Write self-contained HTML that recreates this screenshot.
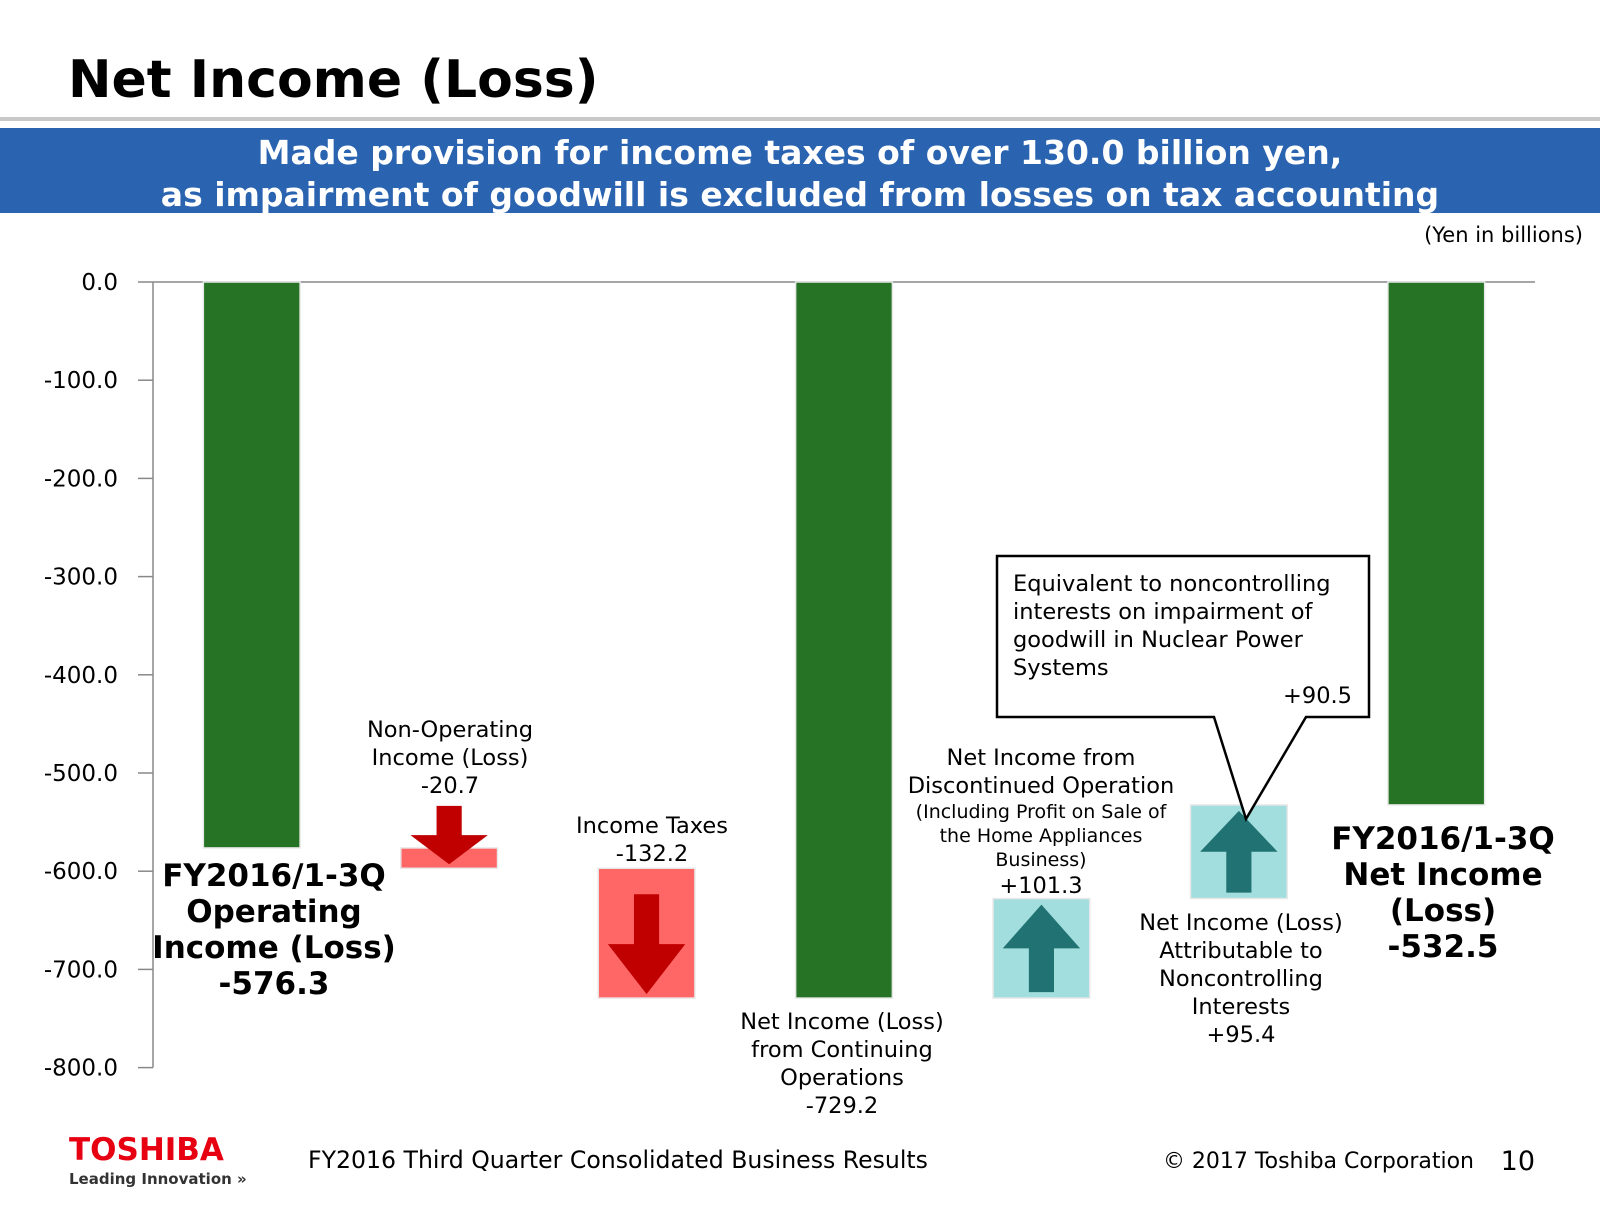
<!DOCTYPE html>
<html><head><meta charset="utf-8"><style>
body{margin:0;background:#fff}
svg text{font-family:"DejaVu Sans","Liberation Sans",sans-serif}
</style></head><body>
<svg id="c" width="1600" height="1200" viewBox="0 0 1600 1200" xmlns="http://www.w3.org/2000/svg">
<text x="68" y="97" font-size="52" font-weight="bold" fill="#000">Net Income (Loss)</text>
<rect x="0" y="117" width="1600" height="4" fill="#c8c8c8"/>
<rect x="0" y="128" width="1600" height="85" fill="#2a63b0"/>
<text x="800" y="164" font-size="33" font-weight="bold" fill="#fff" text-anchor="middle">Made provision for income taxes of over 130.0 billion yen,</text>
<text x="800" y="206" font-size="33" font-weight="bold" fill="#fff" text-anchor="middle">as impairment of goodwill is excluded from losses on tax accounting</text>
<text x="1583" y="242" font-size="21" text-anchor="end">(Yen in billions)</text>
<g id="axes"></g><g id="marks"></g>
<g>
<path d="M997 556 H1369 V717 H1306 L1246 819 L1214 717 H997 Z" fill="#fff" stroke="#000" stroke-width="2.5"/>
<text font-size="22.5" x="1013" y="591">Equivalent to noncontrolling</text>
<text font-size="22.5" x="1013" y="619">interests on impairment of</text>
<text font-size="22.5" x="1013" y="647">goodwill in Nuclear Power</text>
<text font-size="22.5" x="1013" y="675">Systems</text>
<text font-size="22.5" x="1352" y="703" text-anchor="end">+90.5</text>
</g>
<g font-size="22.5" text-anchor="middle" fill="#000">
<text><tspan x="450" y="737">Non-Operating</tspan><tspan x="450" y="765">Income (Loss)</tspan><tspan x="450" y="793">-20.7</tspan></text>
<text><tspan x="652" y="833">Income Taxes</tspan><tspan x="652" y="861">-132.2</tspan></text>
<text><tspan x="842" y="1029">Net Income (Loss)</tspan><tspan x="842" y="1057">from Continuing</tspan><tspan x="842" y="1085">Operations</tspan><tspan x="842" y="1113">-729.2</tspan></text>
<text><tspan x="1041" y="765">Net Income from</tspan><tspan x="1041" y="793">Discontinued Operation</tspan><tspan x="1041" y="818" font-size="19">(Including Profit on Sale of</tspan><tspan x="1041" y="842" font-size="19">the Home Appliances</tspan><tspan x="1041" y="866" font-size="19">Business)</tspan><tspan x="1041" y="893">+101.3</tspan></text>
<text><tspan x="1241" y="930">Net Income (Loss)</tspan><tspan x="1241" y="958">Attributable to</tspan><tspan x="1241" y="986">Noncontrolling</tspan><tspan x="1241" y="1014">Interests</tspan><tspan x="1241" y="1042">+95.4</tspan></text>
</g>
<g font-size="31" font-weight="bold" text-anchor="middle">
<text><tspan x="274" y="886">FY2016/1-3Q</tspan><tspan x="274" y="922">Operating</tspan><tspan x="274" y="958">Income (Loss)</tspan><tspan x="274" y="994">-576.3</tspan></text>
<text><tspan x="1443" y="849">FY2016/1-3Q</tspan><tspan x="1443" y="885">Net Income</tspan><tspan x="1443" y="921">(Loss)</tspan><tspan x="1443" y="957">-532.5</tspan></text>
</g>
<text x="69" y="1160" font-size="31" font-weight="bold" fill="#e60012" font-family="Liberation Sans">TOSHIBA</text>
<text x="69" y="1184" font-size="15" font-weight="bold" fill="#333">Leading Innovation »</text>
<text x="308" y="1168" font-size="23.6">FY2016 Third Quarter Consolidated Business Results</text>
<text x="1474" y="1168" font-size="22" text-anchor="end">© 2017 Toshiba Corporation</text>
<text x="1535" y="1170" font-size="27" text-anchor="end">10</text>
</svg>
<script>
const categories=["Operating Income","Non-Operating","Income Taxes","Continuing Ops","Discontinued","Noncontrolling","Net Income"];
const deltas=[-576.3,-20.7,-132.2,null,101.3,95.4,null];
const kinds=["total","down","down","total","up","up","total"];
const ticks=[0,-100,-200,-300,-400,-500,-600,-700,-800];
const NS="http://www.w3.org/2000/svg";
const x0=153,x1=1535,y0=282,k=0.982;
const band=(x1-x0)/categories.length;
const y=v=>y0-v*k;
const cx=i=>x0+band*(i+0.5);
function mk(t,a,p){const e=document.createElementNS(NS,t);for(const n in a)e.setAttribute(n,a[n]);p.appendChild(e);return e;}
const ax=document.getElementById('axes'),mg=document.getElementById('marks');
ticks.forEach(t=>{
 const l=mk('line',{x1:138,x2:t===0?x1:x0,y1:y(t),y2:y(t),stroke:'#888','stroke-width':1.5},ax);
 
 
 const tx=mk('text',{x:118,y:y(t)+8,'font-size':23,'text-anchor':'end'},ax);
 tx.textContent=t.toFixed(1);
 
 
});
const yl=mk('line',{x1:x0,x2:x0,y1:y0,y2:y(-800),stroke:'#888','stroke-width':1.5},ax);


let run=0;const bw=band*0.49;
categories.forEach((c,i)=>{
 let a,b;
 if(kinds[i]==='total'){ if(deltas[i]!==null) run=deltas[i]; a=0;b=run; }
 else { a=run; run+=deltas[i]; b=run; }
 const top=Math.min(y(a),y(b)),h=Math.abs(y(a)-y(b));
 const left=cx(i)-bw/2;
 const col=kinds[i]==='total'?'#267326':kinds[i]==='down'?'#ff6666':'#a3dede';
 const r=mk('rect',{x:left,y:top,width:bw,height:h,fill:col,stroke:'#e8e8e8','stroke-width':1.5},mg);
 
 
 if(kinds[i]!=='total'){
  const ac=kinds[i]==='down'?'#c00000':'#217272';
  const m=cx(i),sw=bw*0.26,hw=bw*0.4;
  let ys,ye;
  if(kinds[i]==='down'){ys=h<40?top-42:top+26;ye=top+h-4;}
  else{ys=top+h-6;ye=top+6;}
  const dir=ye>ys?1:-1,hl=Math.min(50,Math.abs(ye-ys)*0.5);
  const yb=ye-dir*hl;
  const p=mk('path',{d:`M${m-sw/2} ${ys} L${m+sw/2} ${ys} L${m+sw/2} ${yb} L${m+hw} ${yb} L${m} ${ye} L${m-hw} ${yb} L${m-sw/2} ${yb} Z`,fill:ac},mg);
  
  
 }
});
</script>
</body></html>
